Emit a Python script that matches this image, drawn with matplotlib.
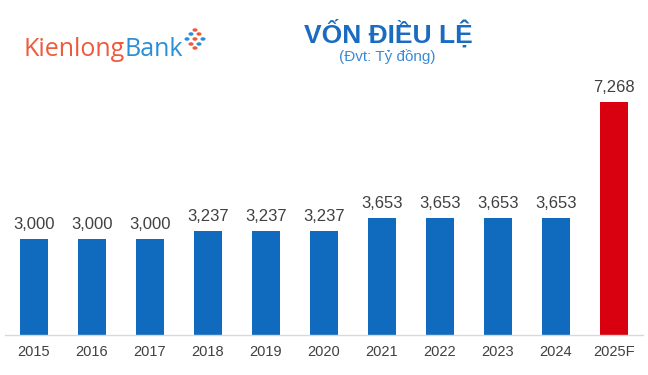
import matplotlib
matplotlib.use("Agg")
import matplotlib.pyplot as plt
from matplotlib.patches import Circle

years = ["2015", "2016", "2017", "2018", "2019", "2020", "2021", "2022", "2023", "2024", "2025F"]
capital = [3000, 3000, 3000, 3237, 3237, 3237, 3653, 3653, 3653, 3653, 7268]
bar_colors = ["#106bbf"] * 10 + ["#d9000f"]

title = "VỐN ĐIỀU LỆ"
subtitle = "(Đvt: Tỷ đồng)"

W, H = 648, 375
fig = plt.figure(figsize=(W / 100, H / 100), dpi=100)
fig.patch.set_facecolor("white")

# axes: x from 5 to 643 px, baseline at y=335 px
ax = fig.add_axes([5 / W, 40 / H, 638 / W, 255 / H])
x = list(range(len(years)))
ax.bar(x, capital, width=0.48, color=bar_colors, zorder=2)
ax.set_xlim(-0.5, len(years) - 0.5)
ax.set_ylim(0, 7268 * 255 / 233)

for s in ["top", "right", "left"]:
    ax.spines[s].set_visible(False)
ax.spines["bottom"].set_color("#d9d9d9")
ax.spines["bottom"].set_linewidth(1.0)
ax.set_yticks([])
ax.set_xticks(x)
ax.set_xticklabels(years, fontfamily="Liberation Sans", fontsize=10.5, color="#404040")
ax.tick_params(axis="x", length=0, pad=7)

for xi, v in zip(x, capital):
    ax.annotate(f"{v:,}", (xi, v), xytext=(0, 7.2), textcoords="offset points",
                ha="center", va="baseline", fontfamily="Liberation Sans",
                fontsize=12, color="#404040")

# title
fig.text(388 / W, 1 - 33 / H, title, ha="center", va="center", fontfamily="Liberation Sans",
         fontweight="bold", fontsize=19, color="#1a6cc0")
fig.text(387 / W, 1 - 57 / H, subtitle, ha="center", va="center", fontfamily="Liberation Sans",
         fontsize=11, color="#3a8ad8")

# logo text sized to span ~160 px
fig.canvas.draw()
r = fig.canvas.get_renderer()
probe1 = fig.text(0, 0, "Kienlong", fontfamily="Open Sans", fontsize=16)
probe2 = fig.text(0, 0, "Bank", fontfamily="Open Sans", fontsize=16)
wtot = probe1.get_window_extent(renderer=r).width + probe2.get_window_extent(renderer=r).width
probe1.remove(); probe2.remove()
fs = 16 * 160 / wtot
t1 = fig.text(23 / W, 1 - 56 / H, "Kienlong", ha="left", va="baseline",
              fontfamily="Open Sans", fontsize=fs, color="#ef5a3c")
bb = t1.get_window_extent(renderer=r)
fig.text(bb.x1 / W, 1 - 56 / H, "Bank", ha="left", va="baseline",
         fontfamily="Open Sans", fontsize=fs, color="#2a8fd8")

# logo icon: small diamond of dots
cx, cy = 195, 39
pts = [(-8, 0, "#2a8fd8"), (8, 0, "#2a8fd8"), (0, -9, "#ef5a3c"), (0, 9, "#ef5a3c"),
       (-4, -5, "#2a8fd8"), (4, 5, "#2a8fd8"), (4, -5, "#ef5a3c"), (-4, 5, "#ef5a3c"),
       (0, 0, "#ef5a3c")]
for dx, dy, c in pts:
    fig.patches.append(Circle(((cx + dx) / W, 1 - (cy + dy) / H), 1.8 / W,
                              transform=fig.transFigure, color=c, figure=fig))

fig.savefig("out.png", dpi=100)
